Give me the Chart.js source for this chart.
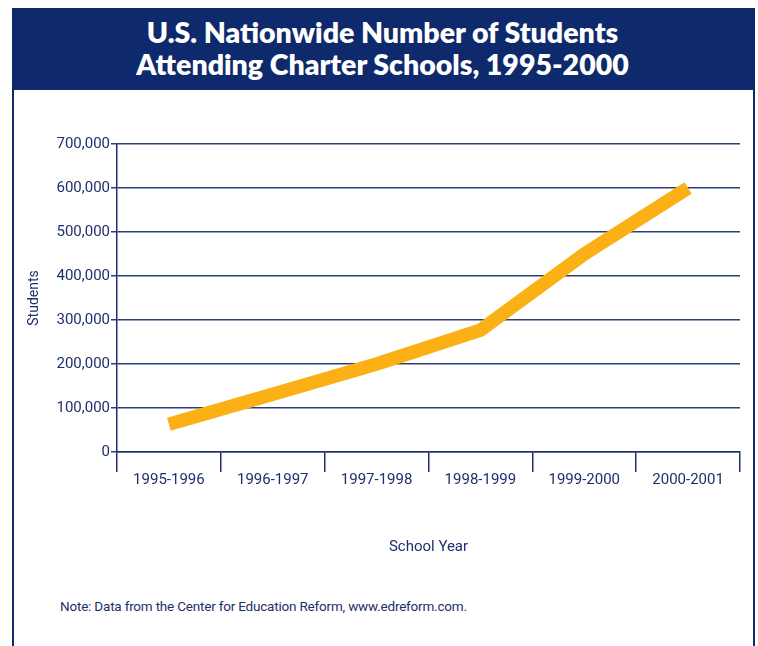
<!DOCTYPE html>
<html>
<head>
<meta charset="utf-8">
<script src="https://cdn.jsdelivr.net/npm/chart.js@4/dist/chart.umd.min.js"></script>
<style>
  html, body { margin: 0; padding: 0; background: #fff; }
  body { width: 758px; height: 646px; position: relative; overflow: hidden; }
  .frame {
    position: absolute; left: 12px; top: 8px; width: 739px; height: 660px;
    border-left: 2px solid #0e2a6c; border-right: 2px solid #0e2a6c;
  }
  .banner {
    position: absolute; left: 12px; top: 8px; width: 741px; height: 82px;
    background: #0e2a6c; color: #fff; text-align: center;
    font-family: Lato, "Open Sans", sans-serif; font-weight: 800;
    font-size: 28.5px; line-height: 32px; padding-top: 8px; box-sizing: border-box;
  }
  .wrap { position: absolute; left: 0; top: 100px; width: 758px; height: 470px; }
  .note {
    position: absolute; left: 60px; top: 598px;
    font-family: Roboto, sans-serif; letter-spacing: -0.2px;
    font-size: 13.5px; color: #1f2f6b;
  }
</style>
</head>
<body>
<div class="frame"></div>
<div class="banner">U.S. Nationwide Number of Students<br>Attending Charter Schools, 1995-2000</div>
<div class="wrap"><canvas id="lineChart"></canvas></div>
<div class="note">Note: Data from the Center for Education Reform, www.edreform.com.</div>
<script>
// School years and enrolled students
const YEARS = ['1995-1996', '1996-1997', '1997-1998', '1998-1999', '1999-2000', '2000-2001'];
const STUDENTS = [63000, 131000, 200000, 277000, 450000, 600000];
const Y_TICKS = [0, 100000, 200000, 300000, 400000, 500000, 600000, 700000];

const NAVY = '#1f2f6b';
const GRID = '#2c3f7c';
const FONT = 'Roboto, sans-serif';

const ctx = document.getElementById('lineChart');

new Chart(ctx, {
    type: 'line',
    data: {
        labels: YEARS,
        datasets: [{
            label: 'Students',
            data: STUDENTS,
            borderColor: '#fbb116',
            borderWidth: 13.5,
            borderCapStyle: 'butt',
            borderJoinStyle: 'miter',
            pointRadius: 0,
            tension: 0,
            fill: false
        }]
    },
    options: {
        responsive: true,
        maintainAspectRatio: false,
        animation: false,
        layout: { padding: { left: 20, right: 18, top: 44, bottom: 0 } },
        plugins: {
            legend: { display: false },
            tooltip: { enabled: false }
        },
        scales: {
            x: {
                offset: true,
                grid: {
                    offset: true,
                    drawOnChartArea: false,
                    drawTicks: true,
                    tickLength: 20,
                    color: NAVY,
                    lineWidth: 1.5
                },
                border: { color: NAVY, width: 1.5 },
                ticks: {
                    color: NAVY,
                    padding: -1,
                    maxRotation: 0,
                    font: { family: FONT, size: 15 }
                },
                title: {
                    display: true,
                    text: 'School Year',
                    color: NAVY,
                    font: { family: FONT, size: 15 },
                    padding: { top: 0, bottom: 14 }
                },
                afterFit: scale => { scale.height = 118; }
            },
            y: {
                min: 0,
                max: 700000,
                afterBuildTicks: scale => {
                    scale.ticks = Y_TICKS.map(v => ({ value: v }));
                },
                grid: {
                    color: GRID,
                    lineWidth: 1.5,
                    tickLength: 6
                },
                border: { color: NAVY, width: 1.5 },
                ticks: {
                    color: NAVY,
                    padding: 1,
                    font: { family: FONT, size: 15 },
                    callback: v => v.toLocaleString('en-US')
                },
                title: {
                    display: true,
                    text: 'Students',
                    color: NAVY,
                    font: { family: FONT, size: 14 },
                    padding: { top: 6, bottom: 0 }
                },
                afterFit: scale => { scale.width = 97; }
            }
        }
    }
});
</script>
</body>
</html>
